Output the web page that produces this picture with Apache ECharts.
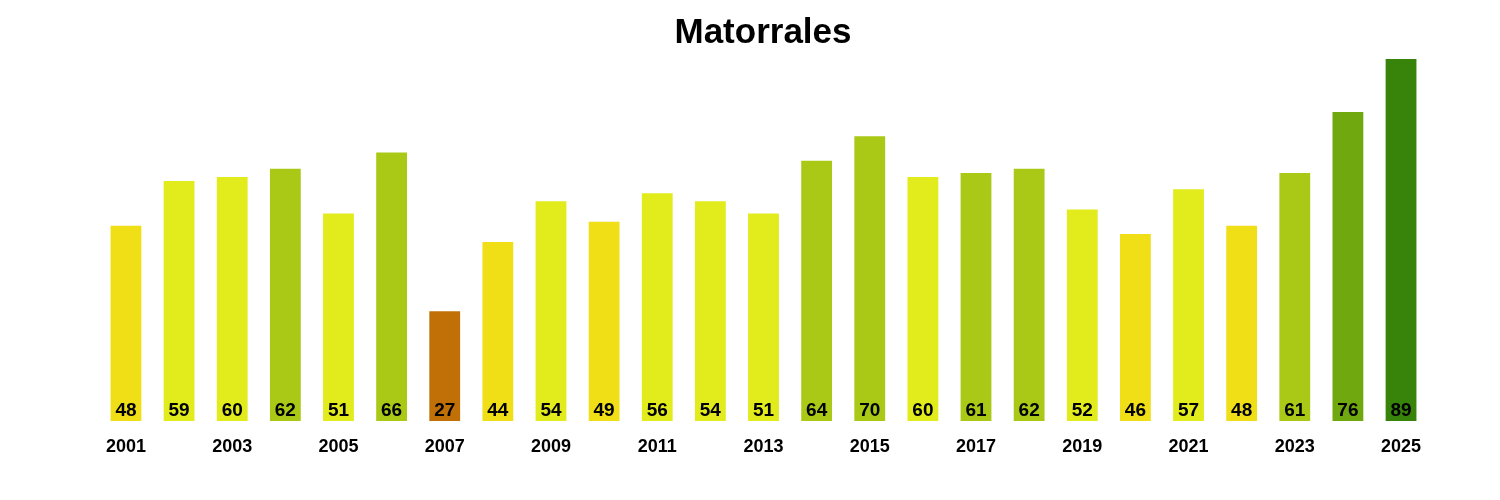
<!DOCTYPE html>
<html><head><meta charset="utf-8">
<script src="https://cdn.jsdelivr.net/npm/echarts@6/dist/echarts.min.js"></script>
<style>html,body{margin:0;padding:0;background:#fff}#c{width:1500px;height:500px}</style>
</head><body><div id="c"></div>
<script>
const years = ['2001','2002','2003','2004','2005','2006','2007','2008','2009','2010','2011','2012','2013','2014','2015','2016','2017','2018','2019','2020','2021','2022','2023','2024','2025'];
const values = [48,59,60,62,51,66,27,44,54,49,56,54,51,64,70,60,61,62,52,46,57,48,61,76,89];
const title = 'Matorrales';

function colorFor(v){
  if (v <= 30) return '#c17008';
  if (v <= 50) return '#f0df17';
  if (v <= 60) return '#e2eb1c';
  if (v <= 70) return '#a9c916';
  if (v <= 80) return '#70a810';
  return '#38840a';
}
const chart = echarts.init(document.getElementById('c'), null, {renderer:'canvas'});
chart.setOption({
  animation:false,
  backgroundColor:'#ffffff',
  title:{text:title,left:758,top:11,textAlign:'center',
    textStyle:{fontFamily:'Liberation Sans',fontWeight:'bold',fontSize:35,color:'#000'}},
  grid:{left:99.4,right:72.4,top:59,bottom:79,containLabel:false},
  xAxis:{type:'category',data:years,
    axisLine:{show:false},axisTick:{show:false},
    axisLabel:{interval:1,margin:17,fontFamily:'Liberation Sans',fontWeight:'bold',fontSize:18,color:'#000'}},
  yAxis:{type:'value',min:0,max:89,show:false,splitLine:{show:false}},
  series:[{type:'bar',barWidth:'58%',
    data:values.map(v=>({value:v,itemStyle:{color:colorFor(v)}})),
    label:{show:true,position:'insideBottom',distance:1,fontFamily:'Liberation Sans',fontWeight:'bold',fontSize:19,color:'#000'}}]
});
</script></body></html>
